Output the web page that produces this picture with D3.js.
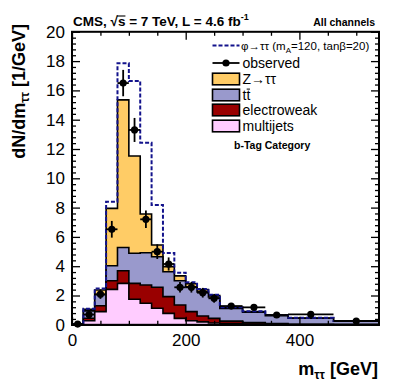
<!DOCTYPE html>
<html>
<head>
<meta charset="utf-8">
<script src="https://cdn.jsdelivr.net/npm/d3@7"></script>
<style>
html,body{margin:0;padding:0;background:#fff;}
svg{display:block;font-family:"Liberation Sans",Arial,Helvetica,sans-serif;}
</style>
</head>
<body>
<svg id="chart" width="399" height="383"></svg>
<script>
// ---- data ----
const binEdges = [0,20,40,60,80,100,120,140,160,180,200,220,240,260,300,340,380,460,540];
const multijets   = [0.01,0.28,0.90,2.42,2.83,1.74,1.47,1.13,0.78,0.44,0.28,0.20,0.12,0.08,0.05,0.03,0.02,0.01];
const electroweak = [0.01,0.17,0.40,0.59,0.86,1.09,1.25,1.43,1.14,0.91,0.62,0.40,0.32,0.17,0.10,0.05,0.02,0.01];
const ttbar       = [0.01,0.50,0.75,1.02,1.59,2.05,2.20,2.09,1.70,1.66,1.70,1.65,1.46,0.87,0.71,0.54,0.41,0.22];
const ztautau     = [0.01,0.10,0.33,3.92,10.07,6.64,2.64,0.80,0.35,0.33,0.20,0.15,0.10,0.06,0.04,0.03,0.01,0.01];
const signal      = [0.02,0.05,0.10,0.45,2.50,5.12,4.87,2.73,0.93,0.22,0.10,0.05,0.05,0.02,0.02,0.02,0.02,0.01];
const observed    = [0.05,0.70,2.09,6.52,16.5,13.3,7.20,4.99,4.15,2.56,2.56,2.19,1.81,1.28,1.19,0.67,0.71,0.26];
const observedErr = [0.05,0.19,0.32,0.57,0.90,0.82,0.60,0.50,0.45,0.36,0.36,0.33,0.30,0.18,0.17,0.13,0.09,0.06];
const xMajorTicks = [0,200,400];
const xMinorTicks = [50,100,150,250,300,350,450,500];
const yMajorTicks = [0,2,4,6,8,10,12,14,16,18,20];

const colors = {ztt:"#ffcc66", ttbar:"#9999cc", ewk:"#990000", qcd:"#ffccff", sig:"#13138c"};

const svg = d3.select("#chart");
const x = d3.scaleLinear().domain([0,540]).range([72,379]);
const y = d3.scaleLinear().domain([0,20]).range([324.8,31.8]);

// stack
const rows = binEdges.slice(0,-1).map((e,i)=>({i, qcd:multijets[i], ewk:electroweak[i], ttbar:ttbar[i], ztt:ztautau[i]}));
const stack = d3.stack().keys(["qcd","ewk","ttbar","ztt"])(rows);

function stepPoints(vals){
  const pts = [];
  vals.forEach((v,i)=>{ pts.push([binEdges[i], v]); pts.push([binEdges[i+1], v]); });
  return pts;
}
const area = d3.area().x(d=>x(d[0])).y0(y(0)).y1(d=>y(d[1]));
const line = d3.line().x(d=>x(d[0])).y(d=>y(d[1]));

// draw cumulative histograms top layer first
const layerColors = {qcd:colors.qcd, ewk:colors.ewk, ttbar:colors.ttbar, ztt:colors.ztt};
[...stack].reverse().forEach(layer=>{
  const tops = layer.map(d=>d[1]);
  svg.append("path").attr("d", area(stepPoints(tops)))
    .attr("fill", layerColors[layer.key]).attr("stroke","#000").attr("stroke-width",1.6)
    .attr("stroke-linejoin","miter");
});

// signal (stacked on top of total)
const totalTop = stack[stack.length-1].map(d=>d[1]);
const sigTop = totalTop.map((t,i)=>t+signal[i]);
const sigPts = [[binEdges[0],0], ...stepPoints(sigTop), [binEdges[binEdges.length-1],0]];
svg.append("path").attr("d", line(sigPts)).attr("fill","none")
  .attr("stroke",colors.sig).attr("stroke-width",2).attr("stroke-dasharray","4,2");

// observed
const obs = svg.append("g");
observed.forEach((v,i)=>{
  const cx = x((binEdges[i]+binEdges[i+1])/2), cy = y(v);
  obs.append("line").attr("x1",x(binEdges[i])).attr("x2",x(binEdges[i+1])).attr("y1",cy).attr("y2",cy)
    .attr("stroke","#000").attr("stroke-width",1.8);
  obs.append("line").attr("x1",cx).attr("x2",cx).attr("y1",y(Math.max(0,v-observedErr[i]))).attr("y2",y(v+observedErr[i]))
    .attr("stroke","#000").attr("stroke-width",1.8);
  obs.append("circle").attr("cx",cx).attr("cy",cy).attr("r",3.6).attr("fill","#000");
});

// axes
const fontAxis = 17;
const gB = svg.append("g").attr("transform",`translate(0,${y(0)})`)
  .call(d3.axisBottom(x).tickValues(xMajorTicks).tickSize(-8).tickPadding(9).tickFormat(d3.format("d")));
svg.append("g").attr("transform",`translate(0,${y(0)})`)
  .call(d3.axisBottom(x).tickValues(xMinorTicks).tickSize(-4).tickFormat(""));
svg.append("g").attr("transform",`translate(0,${y(20)})`)
  .call(d3.axisTop(x).tickValues(xMajorTicks).tickSize(-8).tickFormat(""));
svg.append("g").attr("transform",`translate(0,${y(20)})`)
  .call(d3.axisTop(x).tickValues(xMinorTicks).tickSize(-4).tickFormat(""));
const yMinor = d3.range(0,20.001,0.4).filter(v=>Math.abs(v/2-Math.round(v/2))>1e-6);
const gL = svg.append("g").attr("transform",`translate(${x(0)},0)`)
  .call(d3.axisLeft(y).tickValues(yMajorTicks).tickSize(-8).tickPadding(7).tickFormat(d3.format("d")));
svg.append("g").attr("transform",`translate(${x(0)},0)`)
  .call(d3.axisLeft(y).tickValues(yMinor).tickSize(-4).tickFormat(""));
svg.append("g").attr("transform",`translate(${x(540)},0)`)
  .call(d3.axisRight(y).tickValues(yMajorTicks).tickSize(-8).tickFormat(""));
svg.append("g").attr("transform",`translate(${x(540)},0)`)
  .call(d3.axisRight(y).tickValues(yMinor).tickSize(-4).tickFormat(""));
svg.selectAll(".domain").remove();
svg.selectAll(".tick line").attr("stroke","#000").attr("stroke-width",1.3);
svg.selectAll(".tick text").attr("font-size",fontAxis).attr("font-family",'"Liberation Sans",Arial,sans-serif').attr("fill","#000");

// frame
svg.append("rect").attr("x",x(0)).attr("y",y(20)).attr("width",x(540)-x(0)).attr("height",y(0)-y(20))
  .attr("fill","none").attr("stroke","#000").attr("stroke-width",2);

// titles
const xt = svg.append("text").attr("x",378).attr("y",375).attr("text-anchor","end")
  .attr("font-size",18).attr("font-weight","bold");
xt.append("tspan").text("m");
xt.append("tspan").attr("font-size",12).attr("dy",4).text("ττ");
xt.append("tspan").attr("dy",-4).text(" [GeV]");

const yt = svg.append("text").attr("transform","translate(25,24) rotate(-90)").attr("text-anchor","end")
  .attr("font-size",18).attr("font-weight","bold");
yt.append("tspan").text("dN/dm");
yt.append("tspan").attr("font-size",12).attr("dy",4).text("ττ");
yt.append("tspan").attr("dy",-4).text(" [1/GeV]");

// header
const hd = svg.append("text").attr("x",73).attr("y",26).attr("font-size",13.5).attr("font-weight","bold");
hd.append("tspan").text("CMS, √s = 7 TeV, L = 4.6 fb");
hd.append("tspan").attr("font-size",9).attr("dy",-6).text("-1");
// overline on s of sqrt
{
  const node = hd.node();
  const str = "CMS, √s = 7 TeV, L = 4.6 fb";
  const iS = str.indexOf("√")+1;
  const ext = node.getExtentOfChar(iS);
  const extR = node.getExtentOfChar(iS-1);
  svg.append("line").attr("x1",extR.x+extR.width-1).attr("x2",ext.x+ext.width).attr("y1",ext.y+2).attr("y2",ext.y+2)
    .attr("stroke","#000").attr("stroke-width",1.1);
}
svg.append("text").attr("x",375).attr("y",26).attr("text-anchor","end").attr("font-size",10.5)
  .attr("font-weight","bold").text("All channels");

// legend
const lg = svg.append("g");
const lx0 = 212.5, lx1 = 239.5, tx = 242.5;
// signal row
lg.append("line").attr("x1",lx0).attr("x2",lx1).attr("y1",45.5).attr("y2",45.5)
  .attr("stroke",colors.sig).attr("stroke-width",2).attr("stroke-dasharray","4,2");
const t1 = lg.append("text").attr("x",241).attr("y",45.5).attr("dy","0.35em").attr("font-size",11.5);
t1.append("tspan").text("φ→ττ (m");
t1.append("tspan").attr("font-size",8).attr("dy",3).text("A");
t1.append("tspan").attr("dy",-3).text("=120, tanβ=20)");
// observed row
lg.append("line").attr("x1",lx0).attr("x2",lx1).attr("y1",63).attr("y2",63).attr("stroke","#000").attr("stroke-width",1.8);
lg.append("circle").attr("cx",(lx0+lx1)/2).attr("cy",63).attr("r",3.6).attr("fill","#000");
lg.append("text").attr("x",tx).attr("y",63).attr("dy","0.35em").attr("font-size",14).text("observed");
const boxes = [
  {c:colors.ztt, y:79, label:"Z→ττ"},
  {c:colors.ttbar, y:95, label:"tt"},
  {c:colors.ewk, y:110, label:"electroweak"},
  {c:colors.qcd, y:126, label:"multijets"}
];
boxes.forEach(b=>{
  lg.append("rect").attr("x",lx0).attr("y",b.y-5.8).attr("width",lx1-lx0).attr("height",11.6)
    .attr("fill",b.c).attr("stroke","#000").attr("stroke-width",1.6);
  const t = lg.append("text").attr("x",tx).attr("y",b.y).attr("dy","0.35em").attr("font-size",14).text(b.label);
  if(b.label==="tt"){
    const ext = t.node().getExtentOfChar(1);
    lg.append("line").attr("x1",ext.x+0.3).attr("x2",ext.x+ext.width-0.3).attr("y1",ext.y+2.2).attr("y2",ext.y+2.2)
      .attr("stroke","#000").attr("stroke-width",1);
  }
});
lg.append("text").attr("x",234).attr("y",149).attr("font-size",10.5).attr("font-weight","bold").text("b-Tag Category");
</script>
</body>
</html>
